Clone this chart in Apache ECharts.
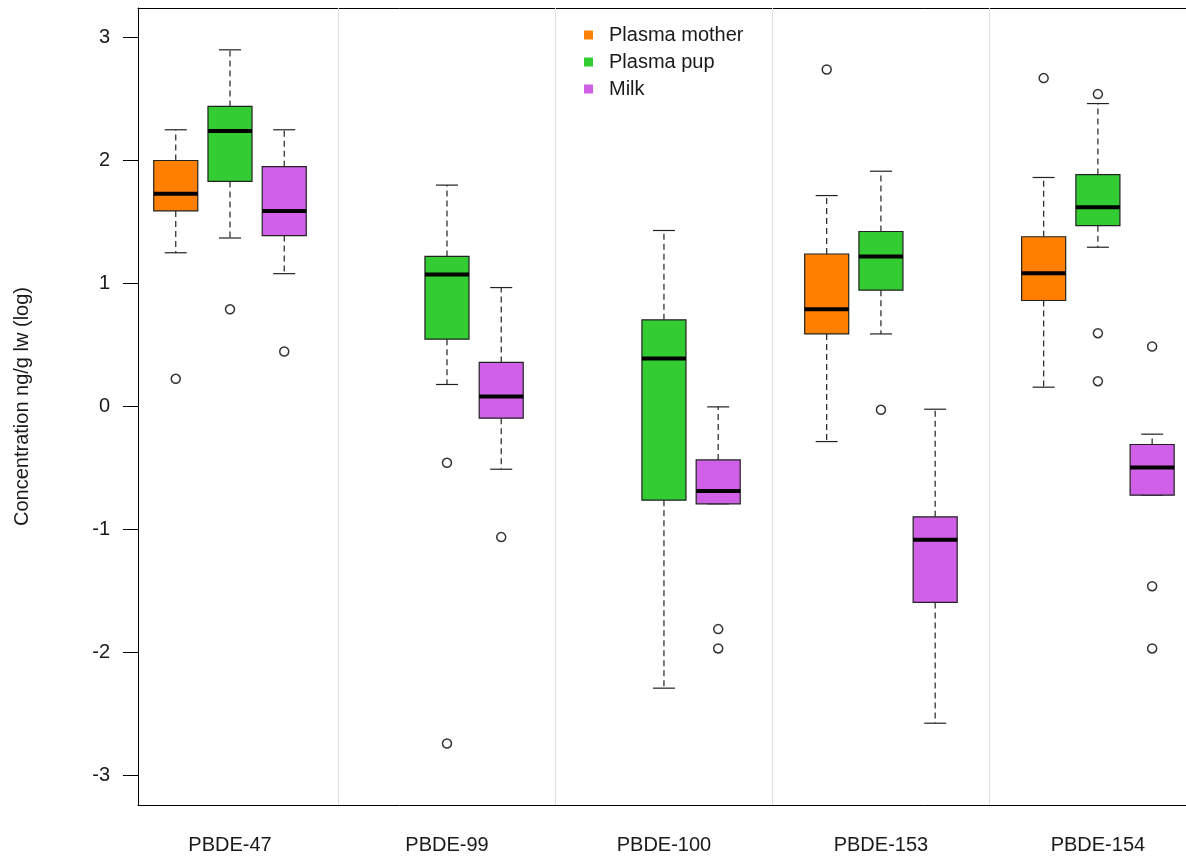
<!DOCTYPE html>
<html>
<head>
<meta charset="utf-8">
<script src="https://cdn.jsdelivr.net/npm/echarts@6/dist/echarts.min.js"></script>
<style>
  html, body { margin: 0; padding: 0; background: #fff; }
  #chart { width: 1186px; height: 859px; }
</style>
</head>
<body>
<div id="chart"></div>
<script>
  // data: [category index, lower whisker, Q1, median, Q3, upper whisker]
  var categories = ['PBDE-47', 'PBDE-99', 'PBDE-100', 'PBDE-153', 'PBDE-154'];
  var seriesNames = ['Plasma mother', 'Plasma pup', 'Milk'];
  var yTicks = [-3, -2, -1, 0, 1, 2, 3];

  var motherBoxes = [
    [0, 1.25, 1.59, 1.73, 2.00, 2.25],
    [3, -0.285, 0.59, 0.79, 1.24, 1.715],
    [4, 0.157, 0.862, 1.084, 1.38, 1.862]
  ];
  var pupBoxes = [
    [0, 1.37, 1.83, 2.24, 2.44, 2.90],
    [1, 0.179, 0.547, 1.073, 1.22, 1.80],
    [2, -2.29, -0.762, 0.39, 0.705, 1.431],
    [3, 0.59, 0.946, 1.22, 1.423, 1.913],
    [4, 1.295, 1.47, 1.62, 1.886, 2.463]
  ];
  var milkBoxes = [
    [0, 1.08, 1.39, 1.59, 1.95, 2.25],
    [1, -0.51, -0.095, 0.081, 0.358, 0.967],
    [2, -0.791, -0.791, -0.688, -0.434, -0.003],
    [3, -2.575, -1.593, -1.084, -0.897, -0.022],
    [4, -0.721, -0.721, -0.496, -0.309, -0.225]
  ];

  var motherOutliers = [[0, 0.225], [3, 2.74], [4, 2.67]];
  var pupOutliers = [[0, 0.79], [1, -0.458], [1, -2.74], [3, -0.027], [4, 2.54], [4, 0.596], [4, 0.206]];
  var milkOutliers = [[0, 0.447], [1, -1.062], [2, -1.81], [2, -1.967], [4, 0.488], [4, -1.461], [4, -1.967]];

  var colors = ['#FF8000', '#33CC33', '#D060E8'];
  var offsets = [-0.25, 0, 0.25];
  var BOX_W = 0.203;
  var FONT = "'Liberation Sans', Arial, sans-serif";

  var chart = echarts.init(document.getElementById('chart'));

  function makeRender(offset) {
    return function (params, api) {
      var cat = api.value(0);
      var xc = api.coord([cat + offset, 0])[0];
      var half = api.size([BOX_W, 0])[0] / 2;
      var cap = half / 2;
      var yLo = api.coord([0, api.value(1)])[1];
      var yQ1 = api.coord([0, api.value(2)])[1];
      var yMed = api.coord([0, api.value(3)])[1];
      var yQ3 = api.coord([0, api.value(4)])[1];
      var yHi = api.coord([0, api.value(5)])[1];
      var dashStyle = { stroke: '#222', lineWidth: 1.2, lineDash: [6, 4] };
      var solid = { stroke: '#222', lineWidth: 1.2 };
      return {
        type: 'group',
        children: [
          { type: 'line', shape: { x1: xc, y1: yQ3, x2: xc, y2: yHi }, style: dashStyle },
          { type: 'line', shape: { x1: xc, y1: yQ1, x2: xc, y2: yLo }, style: dashStyle },
          { type: 'line', shape: { x1: xc - cap, y1: yHi, x2: xc + cap, y2: yHi }, style: solid },
          { type: 'line', shape: { x1: xc - cap, y1: yLo, x2: xc + cap, y2: yLo }, style: solid },
          { type: 'rect', shape: { x: xc - half, y: yQ3, width: half * 2, height: yQ1 - yQ3 },
            style: { fill: api.visual('color'), stroke: '#222', lineWidth: 1.2 } },
          { type: 'line', shape: { x1: xc - half, y1: yMed, x2: xc + half, y2: yMed },
            style: { stroke: '#000', lineWidth: 4 } }
        ]
      };
    };
  }

  var boxData = [motherBoxes, pupBoxes, milkBoxes];
  var outData = [motherOutliers, pupOutliers, milkOutliers];
  var series = [];
  for (var i = 0; i < 3; i++) {
    series.push({
      name: seriesNames[i],
      type: 'custom',
      renderItem: makeRender(offsets[i]),
      itemStyle: { color: colors[i] },
      encode: { x: 0, y: [1, 2, 3, 4, 5] },
      data: boxData[i],
      z: 3
    });
  }
  for (var j = 0; j < 3; j++) {
    series.push({
      name: 'outliers-' + j,
      type: 'scatter',
      symbol: 'circle',
      symbolSize: 9,
      itemStyle: { color: '#fff', borderColor: '#000', borderWidth: 1.5 },
      data: outData[j].map(function (p) { return [p[0] + offsets[j], p[1]]; }),
      z: 4
    });
  }
  // category separators
  series.push({
    type: 'scatter',
    data: [],
    markLine: {
      silent: true,
      symbol: 'none',
      label: { show: false },
      lineStyle: { color: '#dddddd', type: 'solid', width: 1 },
      data: [{ xAxis: 0.5 }, { xAxis: 1.5 }, { xAxis: 2.5 }, { xAxis: 3.5 }]
    },
    z: 1
  });

  var X_MIN = -0.424, X_MAX = 4.406;

  chart.setOption({
    animation: false,
    backgroundColor: '#fff',
    grid: { left: 138, top: 8, bottom: 54, right: 0, show: false },
    legend: {
      orient: 'vertical',
      left: 584,
      top: 25,
      padding: 0,
      itemGap: 7,
      itemWidth: 9,
      itemHeight: 9,
      data: seriesNames.map(function (n) { return { name: n, icon: 'rect' }; }),
      textStyle: { fontFamily: FONT, fontSize: 20, color: '#1a1a1a', padding: [0, 0, 0, 11] }
    },
    xAxis: [{
      type: 'value',
      min: X_MIN,
      max: X_MAX,
      axisLine: { onZero: false, lineStyle: { color: '#000', width: 1 } },
      axisTick: { show: false },
      splitLine: { show: false },
      axisLabel: {
        customValues: [0, 1, 2, 3, 4],
        margin: 30,
        fontFamily: FONT, fontSize: 20, color: '#1a1a1a',
        formatter: function (v) { return categories[Math.round(v)]; }
      }
    }, {
      // top border of the plot box
      type: 'value',
      position: 'top',
      min: X_MIN,
      max: X_MAX,
      axisLine: { onZero: false, lineStyle: { color: '#000', width: 1 } },
      axisTick: { show: false },
      axisLabel: { show: false },
      splitLine: { show: false }
    }],
    yAxis: {
      type: 'value',
      min: -3.24,
      max: 3.24,
      name: 'Concentration ng/g lw (log)',
      nameLocation: 'middle',
      nameRotate: 90,
      nameGap: 106,
      nameTextStyle: { fontFamily: FONT, fontSize: 20, color: '#1a1a1a' },
      axisLine: { show: true, onZero: false, lineStyle: { color: '#000', width: 1 } },
      axisTick: { show: true, length: 15, customValues: yTicks, lineStyle: { color: '#000' } },
      splitLine: { show: false },
      axisLabel: {
        customValues: yTicks,
        margin: 28,
        fontFamily: FONT, fontSize: 20, color: '#1a1a1a'
      }
    },
    series: series
  });
</script>
</body>
</html>
